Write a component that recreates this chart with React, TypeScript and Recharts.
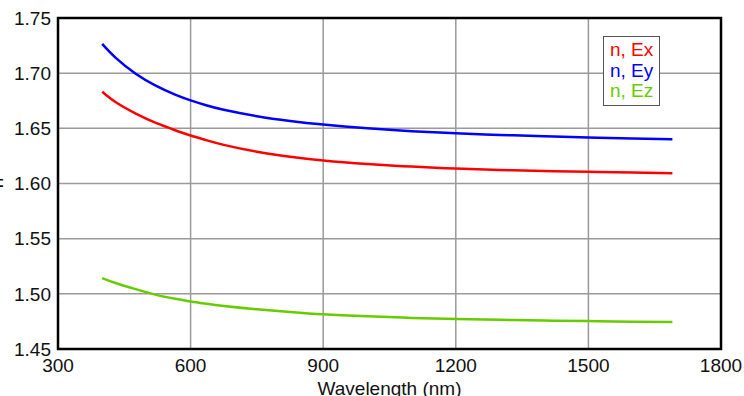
import {
  LineChart,
  Line,
  XAxis,
  YAxis,
  CartesianGrid,
  ReferenceArea,
} from 'recharts';

const wavelengths = [400, 430, 475, 520, 565, 600, 635, 675, 750, 825, 900, 1000, 1100, 1200, 1300, 1400, 1500, 1600, 1690];
const nEx = [1.6831, 1.6738, 1.6635, 1.6551, 1.6483, 1.6435, 1.6393, 1.635, 1.6288, 1.6243, 1.6209, 1.6177, 1.6153, 1.6135, 1.6122, 1.6113, 1.6106, 1.6099, 1.6093];
const nEy = [1.7265, 1.7141, 1.6997, 1.6889, 1.6805, 1.6753, 1.6709, 1.6668, 1.661, 1.6567, 1.6534, 1.65, 1.6474, 1.6455, 1.644, 1.6428, 1.6417, 1.6408, 1.6401];
const nEz = [1.5143, 1.5098, 1.5043, 1.4993, 1.4955, 1.493, 1.491, 1.489, 1.486, 1.4835, 1.4814, 1.4796, 1.4782, 1.4772, 1.4764, 1.4758, 1.4753, 1.4748, 1.4744];

const seriesNames = ['n, Ex', 'n, Ey', 'n, Ez'];
const seriesColors = ['#ff0000', '#0000ff', '#66cc00'];
const seriesKeys = ['ex', 'ey', 'ez'];

const xTicks = [300, 600, 900, 1200, 1500, 1800];
const yTicks = [1.45, 1.5, 1.55, 1.6, 1.65, 1.7, 1.75];

const data = wavelengths.map((w, i) => ({ w, ex: nEx[i], ey: nEy[i], ez: nEz[i] }));

const FONT = '"Liberation Sans", Arial, sans-serif';

export default function App() {
  return (
    <div style={{ position: 'absolute', left: 0, top: 0, width: 744, height: 396 }}>
      <LineChart
        width={744}
        height={396}
        data={data}
        margin={{ top: 18, right: 23, left: 0, bottom: 0 }}
        style={{ fontFamily: FONT }}
      >
        <CartesianGrid stroke="#9a9a9a" strokeWidth={1.5} />
        <XAxis
          dataKey="w"
          type="number"
          domain={[300, 1800]}
          ticks={xTicks}
          height={47}
          tickLine={false}
          tickSize={0}
          tickMargin={10}
          axisLine={false}
          tick={{ fill: '#111', fontSize: 19 }}
          label={{ value: 'Wavelength (nm)', position: 'insideBottom', offset: 1, fill: '#111', fontSize: 19 }}
        />
        <YAxis
          type="number"
          domain={[1.45, 1.75]}
          ticks={yTicks}
          width={58}
          tickLine={false}
          tickSize={0}
          tickMargin={7}
          axisLine={false}
          tickFormatter={(v: number) => v.toFixed(2)}
          tick={{ fill: '#111', fontSize: 19 }}
          label={{
            content: () => (
              <text
                x={3}
                y={183}
                transform="rotate(-90 3 183)"
                textAnchor="middle"
                fontSize={19}
                fill="#111"
                fontFamily={FONT}
              >
                n
              </text>
            ),
          }}
        />
        <ReferenceArea x1={300} x2={1800} y1={1.45} y2={1.75} fill="none" stroke="#000" strokeWidth={2.5} />
        {seriesKeys.map((k, i) => (
          <Line
            key={k}
            type="natural"
            dataKey={k}
            name={seriesNames[i]}
            stroke={seriesColors[i]}
            strokeWidth={2.5}
            dot={false}
            isAnimationActive={false}
          />
        ))}
      </LineChart>
      <div
        style={{
          position: 'absolute',
          left: 603,
          top: 36,
          border: '1.5px solid #555',
          background: '#fff',
          padding: '3px 6px',
          fontFamily: FONT,
          fontSize: 19,
          lineHeight: '20.5px',
        }}
      >
        {seriesNames.map((n, i) => (
          <div key={n} style={{ color: seriesColors[i], whiteSpace: 'nowrap' }}>
            {n}
          </div>
        ))}
      </div>
    </div>
  );
}
